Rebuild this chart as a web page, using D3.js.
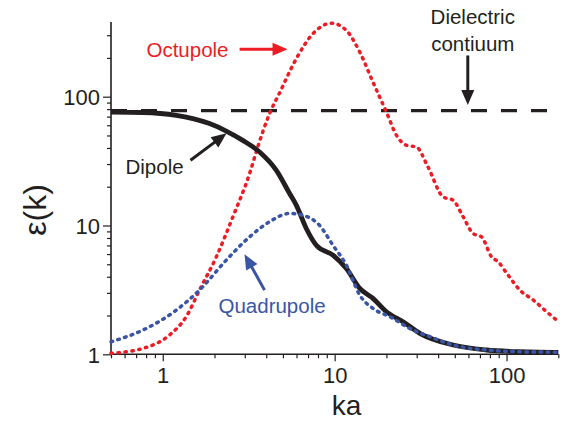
<!DOCTYPE html>
<html>
<head>
<meta charset="utf-8">
<script src="https://cdn.jsdelivr.net/npm/d3@7"></script>
<style>
  html, body { margin: 0; padding: 0; background: #fff; }
  svg { display: block; font-family: "Liberation Sans", Arial, Helvetica, sans-serif; }
</style>
</head>
<body>
<svg id="chart" width="563" height="425"></svg>
<script>
// ---- data (ka, epsilon) ----
const dipole = [
  [0.5, 76.0], [0.765, 75.4], [1.197, 71.6], [1.495, 67.5], [1.87, 61.8], [2.34, 54.1],
  [2.92, 45.8], [3.66, 37.2], [4.58, 26.8], [5.47, 17.7], [5.98, 14.4], [6.84, 9.48],
  [7.82, 7.03], [9.77, 5.89], [11.7, 4.64], [14.0, 3.25], [16.7, 2.72], [20.0, 2.14],
  [25.0, 1.79], [31.3, 1.455], [48.9, 1.18], [76.5, 1.08], [119.5, 1.047], [195.5, 1.036],
  [200, 1.035]
];
const quadrupole = [
  [0.5, 1.25], [0.765, 1.54], [1.197, 2.20], [1.636, 3.15], [2.34, 5.38], [3.20, 8.16],
  [4.18, 10.7], [5.47, 12.4], [6.54, 12.0], [8.18, 10.0], [9.77, 7.03], [11.7, 4.92],
  [14.0, 2.88], [16.7, 2.27], [20.9, 1.96], [28.6, 1.54], [35.8, 1.37], [48.9, 1.18],
  [76.5, 1.08], [119.5, 1.047], [195.5, 1.036], [200, 1.035]
];
const octupole = [
  [0.5, 1.018], [0.765, 1.11], [1.094, 1.41], [1.37, 1.96], [1.636, 3.15], [2.05, 5.71],
  [2.56, 11.7], [3.20, 25.3], [3.57, 40.7], [4.18, 73.8], [4.78, 107], [5.98, 197],
  [7.47, 308], [9.57, 372], [11.7, 327], [14.0, 222], [16.7, 130], [20.0, 76.0],
  [22.9, 50.1], [26.2, 41.9], [29.9, 40.7], [34.9, 28.5], [42.7, 16.7], [48.9, 15.7],
  [55.9, 11.7], [63.8, 8.67], [71.5, 8.16], [81.8, 5.71], [89.4, 5.22], [102, 4.12],
  [119.5, 3.15], [143, 2.64], [171, 2.14], [200, 1.80]
];
const continuumValue = 78;
const continuum = [[0.5, continuumValue], [200, continuumValue]];

const xDomain = [0.5, 200];
const yDomain = [1, 380];
const xMajorTicks = [1, 10, 100];
const yMajorTicks = [1, 10, 100];
const xMinorTicks = [0.5, 0.6, 0.7, 0.8, 0.9, 2, 3, 4, 5, 6, 7, 8, 9,
  20, 30, 40, 50, 60, 70, 80, 90, 200];
const yMinorTicks = [2, 3, 4, 5, 6, 7, 8, 9, 20, 30, 40, 50, 60, 70, 80, 90, 200, 300];

// annotation anchors in data units
const labels = [
  { text: "Octupole", x: 0.804, y: 205, color: "#ed1c24", anchor: "start" },
  { text: "Dipole", x: 0.607, y: 25.0, color: "#231f20", anchor: "start" },
  { text: "Quadrupole", x: 2.11, y: 2.09, color: "#3a55a5", anchor: "start" },
  { text: "Dielectric", x: 63.6, y: 368, color: "#231f20", anchor: "middle" },
  { text: "contiuum", x: 63.6, y: 228, color: "#231f20", anchor: "middle" }
];
const arrows = [
  { from: [2.80, 233], to: [5.32, 233], color: "#ed1c24" },
  { from: [1.45, 32.1], to: [2.35, 51.9], color: "#231f20" },
  { from: [3.91, 3.15], to: [2.99, 5.99], color: "#3a55a5" },
  { from: [59.5, 209], to: [59.5, 86], color: "#231f20" }
];

// ---- layout ----
const W = 563, H = 425;
const margin = { left: 111, top: 22, right: 4.7, bottom: 70.7 };
const svg = d3.select("#chart");

const x = d3.scaleLog().domain(xDomain).range([margin.left, W - margin.right]);
const y = d3.scaleLog().domain(yDomain).range([H - margin.bottom, margin.top]);
const ink = "#231f20";

// axes
const gx = svg.append("g").attr("transform", `translate(0,${H - margin.bottom})`);
gx.call(d3.axisBottom(x).tickValues(xMinorTicks).tickSize(4).tickFormat(""));
gx.call(g => g.select(".domain").remove());
const gxMaj = svg.append("g").attr("transform", `translate(0,${H - margin.bottom})`);
gxMaj.call(d3.axisBottom(x).tickValues(xMajorTicks).tickSize(7).tickPadding(6).tickFormat(d3.format("d")));

const gy = svg.append("g").attr("transform", `translate(${margin.left},0)`);
gy.call(d3.axisLeft(y).tickValues(yMinorTicks).tickSize(4).tickFormat(""));
gy.call(g => g.select(".domain").remove());
const gyMaj = svg.append("g").attr("transform", `translate(${margin.left},0)`);
gyMaj.call(d3.axisLeft(y).tickValues(yMajorTicks).tickSize(8).tickPadding(3).tickFormat(d3.format("d")));

svg.selectAll(".domain").attr("stroke", ink).attr("stroke-width", 1.6);
gxMaj.select(".domain").attr("d", `M${x.range()[0]},0H${x.range()[1]}`);
gyMaj.select(".domain").attr("d", `M0,${y.range()[0]}V${y.range()[1]}`);
svg.selectAll(".tick line").attr("stroke", ink).attr("stroke-width", 1.2);
svg.selectAll(".tick text").attr("fill", ink).attr("font-size", 22)
  .attr("font-family", "'Liberation Sans', Arial, sans-serif");
gyMaj.selectAll(".tick text").attr("dy", "0.36em");

// axis titles
svg.append("text").attr("x", (x.range()[0] + x.range()[1]) / 2 + 12).attr("y", 415)
  .attr("text-anchor", "middle").attr("font-size", 28).attr("fill", ink).text("ka");
svg.append("text").attr("transform", `translate(46,210) rotate(-90)`)
  .attr("text-anchor", "middle").attr("font-size", 32).attr("fill", ink).text("ε(k)");

// lines
const line = d3.line().x(d => x(d[0])).y(d => y(d[1])).curve(d3.curveMonotoneX);
const plot = svg.append("g");
plot.append("path").datum(continuum).attr("d", line).attr("fill", "none")
  .attr("stroke", ink).attr("stroke-width", 3.2).attr("stroke-dasharray", "16,14");
plot.append("path").datum(octupole).attr("d", line).attr("fill", "none")
  .attr("stroke", "#ed1c24").attr("stroke-width", 3.5).attr("stroke-linecap", "round")
  .attr("stroke-dasharray", "1.4,5.6");
plot.append("path").datum(dipole).attr("d", line).attr("fill", "none")
  .attr("stroke", ink).attr("stroke-width", 4.8);
plot.append("path").datum(quadrupole).attr("d", line).attr("fill", "none")
  .attr("stroke", "#3a55a5").attr("stroke-width", 3.5).attr("stroke-linecap", "round")
  .attr("stroke-dasharray", "1.7,5.4");

// annotations
const ann = svg.append("g").attr("font-size", 20.5);
labels.forEach(l => {
  ann.append("text").attr("x", x(l.x)).attr("y", y(l.y)).attr("fill", l.color)
    .attr("text-anchor", l.anchor).text(l.text);
});
arrows.forEach(a => {
  const x1 = x(a.from[0]), y1 = y(a.from[1]), x2 = x(a.to[0]), y2 = y(a.to[1]);
  const ang = Math.atan2(y2 - y1, x2 - x1);
  const hl = 15, hw = 6.5;
  const bx = x2 - hl * Math.cos(ang), by = y2 - hl * Math.sin(ang);
  ann.append("line").attr("x1", x1).attr("y1", y1).attr("x2", bx + 2 * Math.cos(ang)).attr("y2", by + 2 * Math.sin(ang))
    .attr("stroke", a.color).attr("stroke-width", 3);
  const px = -Math.sin(ang) * hw, py = Math.cos(ang) * hw;
  ann.append("path")
    .attr("d", `M${x2},${y2}L${bx + px},${by + py}L${bx - px},${by - py}Z`)
    .attr("fill", a.color);
});
</script>
</body>
</html>
